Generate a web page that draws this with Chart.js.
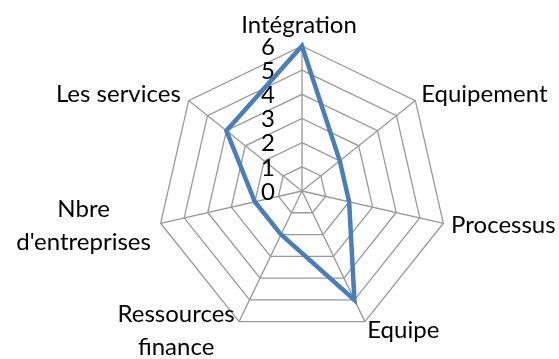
<!DOCTYPE html>
<html>
<head>
<meta charset="utf-8">
<script src="https://cdn.jsdelivr.net/npm/chart.js@4"></script>
<style>
  html, body { margin: 0; padding: 0; background: #fff; }
  #wrap { width: 559px; height: 359px; }
</style>
</head>
<body>
<div id="wrap"><canvas id="c"></canvas></div>
<script>
const categories = ['Intégration', 'Equipement', 'Processus', 'Equipe',
  ['Ressources', 'finance'], ['Nbre', "d'entreprises"], 'Les services'];
const values = [6, 2, 2, 5, 2, 2, 4];
const tickMin = 0;
const tickMax = 6;
const tickStep = 1;

const FONT = '24px Lato';

// draws tick numbers left of the vertical axis and the category labels
const labelsPlugin = {
  id: 'labels',
  beforeDatasetsDraw(chart) {
    const s = chart.scales.r;
    const ctx = chart.ctx;
    ctx.save();
    ctx.font = FONT;
    ctx.fillStyle = '#000';
    ctx.textAlign = 'right';
    ctx.textBaseline = 'middle';
    s.ticks.forEach(t => {
      const p = s.getPointPositionForValue(0, t.value);
      ctx.fillText(t.label, p.x - 27, p.y + 1);
    });
    ctx.restore();
  },
  afterDraw(chart) {
    const s = chart.scales.r;
    const ctx = chart.ctx;
    ctx.save();
    ctx.font = FONT;
    ctx.fillStyle = '#000';
    const lh = 33;
    categories.forEach((lab, i) => {
      const lines = Array.isArray(lab) ? lab : [lab];
      const p = s.getPointPosition(i, s.drawingArea + 10);
      const dx = p.x - s.xCenter;
      const w = Math.max(...lines.map(l => ctx.measureText(l).width));
      let left;
      if (Math.abs(dx) < 2) left = p.x - w / 2 - 3;
      else if (dx > 0) left = p.x - 2;
      else left = p.x - w;
      let top;
      if (i === 0) top = p.y - lines.length * lh + 6;
      else top = p.y - lines.length * lh / 2;
      ctx.textAlign = 'center';
      ctx.textBaseline = 'middle';
      lines.forEach((l, k) => {
        ctx.fillText(l, left + w / 2, top + lh * k + lh / 2);
      });
    });
    ctx.restore();
  }
};

new Chart(document.getElementById('c'), {
  type: 'radar',
  data: {
    labels: categories,
    datasets: [{
      data: values,
      borderColor: '#4a7ebb',
      borderWidth: 4.5,
      pointRadius: 0,
      fill: false,
      tension: 0
    }]
  },
  options: {
    responsive: true,
    maintainAspectRatio: false,
    animation: false,
    layout: { padding: { top: 46, bottom: 23, left: 157, right: 112 } },
    plugins: { legend: { display: false }, tooltip: { enabled: false } },
    scales: {
      r: {
        min: tickMin,
        max: tickMax,
        ticks: { stepSize: tickStep, display: false },
        grid: { color: '#999999', lineWidth: 1.3 },
        angleLines: { color: '#999999', lineWidth: 1.3 },
        pointLabels: { display: false }
      }
    }
  },
  plugins: [labelsPlugin]
});
</script>
</body>
</html>
